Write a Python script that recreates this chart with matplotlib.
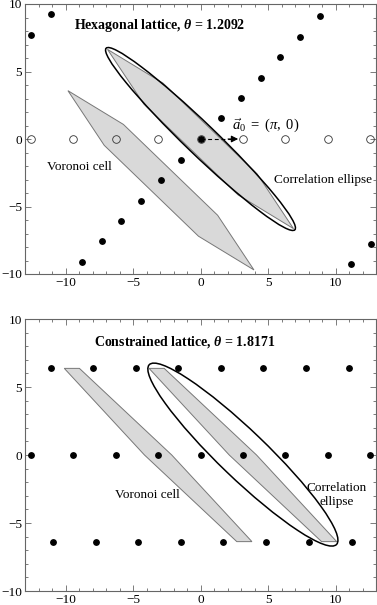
import numpy as np
import matplotlib
matplotlib.use('Agg')
import matplotlib.pyplot as plt
from matplotlib.patches import Polygon, Ellipse

plt.rcParams['font.family'] = ['Liberation Serif', 'DejaVu Serif']
plt.rcParams['mathtext.fontset'] = 'custom'
plt.rcParams['mathtext.rm'] = 'Liberation Serif'
plt.rcParams['mathtext.it'] = 'Liberation Serif:italic'
plt.rcParams['mathtext.bf'] = 'Liberation Serif:bold'
plt.rcParams['mathtext.bfit'] = 'Liberation Serif:italic:bold'

# ---- top panel: hexagonal lattice ----
hex_dots_x = [-12.56, -11.10, -8.78, -7.32, -5.87, -4.39, -2.93, -1.47, 0.0,
              1.50, 2.98, 4.46, 5.89, 7.37, 8.85, 11.13, 12.61]
hex_dots_y = [7.73, 9.26, -9.11, -7.58, -6.07, -4.57, -3.06, -1.56, 0.0,
              1.53, 3.01, 4.54, 6.05, 7.58, 9.11, -9.26, -7.78]
shift_circles_x = [-12.57, -9.42, -6.28, -3.14, 0.0, 3.14, 6.28, 9.42, 12.57]
shift_circles_y = [0, 0, 0, 0, 0, 0, 0, 0, 0]
hex_cell_x = [-6.89, -2.78, 4.20, 6.89, 2.78, -4.20]
hex_cell_y = [6.64, 4.14, -2.59, -6.64, -4.14, 2.59]
hex_cell_centres = [(0.0, 0.0), (-2.93, -3.06)]
hex_ellipse = dict(centre=(0.0, 0.0), width=19.4, height=2.3, angle=-43.9)
a0 = (3.14, 0.0)

# ---- bottom panel: constrained lattice ----
con_dots_x = [-11.10, -7.95, -4.80, -1.64, 1.50, 4.65, 7.81, 10.98,
              -12.57, -9.42, -6.28, -3.14, 0.0, 3.14, 6.28, 9.42, 12.57,
              -10.90, -7.76, -4.61, -1.44, 1.69, 4.85, 8.01, 11.20]
con_dots_y = [6.37] * 8 + [0.0] * 9 + [-6.37] * 8
con_cell_x = [-6.95, -5.83, 1.01, 6.95, 5.83, -1.01]
con_cell_y = [6.37, 6.37, 0.0, -6.37, -6.37, 0.0]
con_cell_centres = [(3.14, 0.0), (-3.14, 0.0)]
con_ellipse = dict(centre=(3.14, 0.03), width=19.16, height=3.5, angle=-43.6)

fig = plt.figure(figsize=(3.77, 6.05), dpi=100)
ax1 = fig.add_axes([25 / 377, 1 - 274 / 605, 351 / 377, 270 / 605])
ax2 = fig.add_axes([25 / 377, 1 - 591 / 605, 351 / 377, 272 / 605])

frame_col = '#666666'


def style(ax):
    ax.set_xlim(-13, 13)
    ax.set_ylim(-10, 10)
    ax.set_xticks([-10, -5, 0, 5, 10])
    ax.set_yticks([-10, -5, 0, 5, 10])
    ax.set_xticks(np.arange(-13, 14, 1), minor=True)
    ax.set_yticks(np.arange(-10, 11, 1), minor=True)
    ax.tick_params(which='both', direction='in', top=True, right=True,
                   color=frame_col, labelsize=9.5, width=0.6, pad=2)
    ax.tick_params(which='major', length=4)
    ax.tick_params(which='minor', length=2)
    for s in ax.spines.values():
        s.set_color(frame_col)
        s.set_linewidth(0.8)


def draw_cells(ax, cx, cy, centres):
    for (ox, oy) in centres:
        pts = np.column_stack([np.array(cx) + ox, np.array(cy) + oy])
        ax.add_patch(Polygon(pts, closed=True, facecolor='#d9d9d9',
                             edgecolor='#777777', lw=0.7, zorder=1))


def draw_ellipse(ax, e):
    ax.add_patch(Ellipse(e['centre'], e['width'], e['height'], angle=e['angle'],
                         fill=False, edgecolor='black', lw=1.1, zorder=2))


# top panel
style(ax1)
draw_cells(ax1, hex_cell_x, hex_cell_y, hex_cell_centres)
draw_ellipse(ax1, hex_ellipse)
ax1.plot(shift_circles_x, shift_circles_y, 'o', ms=5.5, mfc='none', mec='#333333',
         mew=0.6, zorder=3, clip_on=False)
ax1.plot(hex_dots_x, hex_dots_y, 'o', ms=3.9, color='black', zorder=4)
ax1.plot([0, a0[0] - 0.9], [0, 0], color='black', lw=0.8, dashes=(3.5, 2.5), zorder=3)
ax1.annotate('', xy=(a0[0] - 0.35, a0[1]), xytext=(a0[0] - 1.1, a0[1]),
             arrowprops=dict(arrowstyle='-|>', color='black', lw=0.8,
                             mutation_scale=10, shrinkA=0, shrinkB=0), zorder=3)
ax1.text(2.3, 0.95, r'$\vec{a}_0\ =\ (\pi,\ 0)$', fontsize=10.5,
         ha='left', va='center')
ax1.text(-3.0, 8.4, r'Hexagonal lattice, $\mathbfit{\theta}$ = 1.2092',
         fontsize=10, fontweight='bold', ha='center', va='center')
ax1.text(-9.0, -2.05, 'Voronoi cell', fontsize=9.5, ha='center', va='center')
ax1.text(9.07, -3.04, 'Correlation ellipse', fontsize=9.5, ha='center', va='center')

# bottom panel
style(ax2)
draw_cells(ax2, con_cell_x, con_cell_y, con_cell_centres)
draw_ellipse(ax2, con_ellipse)
ax2.plot(con_dots_x, con_dots_y, 'o', ms=3.9, color='black', zorder=4,
         clip_on=False)
ax2.text(-1.15, 8.3, r'Constrained lattice, $\mathbfit{\theta}$ = 1.8171',
         fontsize=10, fontweight='bold', ha='center', va='center')
ax2.text(-3.96, -2.95, 'Voronoi cell', fontsize=9.5, ha='center', va='center')
ax2.text(10.09, -2.95, 'Correlation\nellipse', fontsize=9.5, ha='center',
         va='center', linespacing=1.3)

fig.savefig('out.png', dpi=100)
